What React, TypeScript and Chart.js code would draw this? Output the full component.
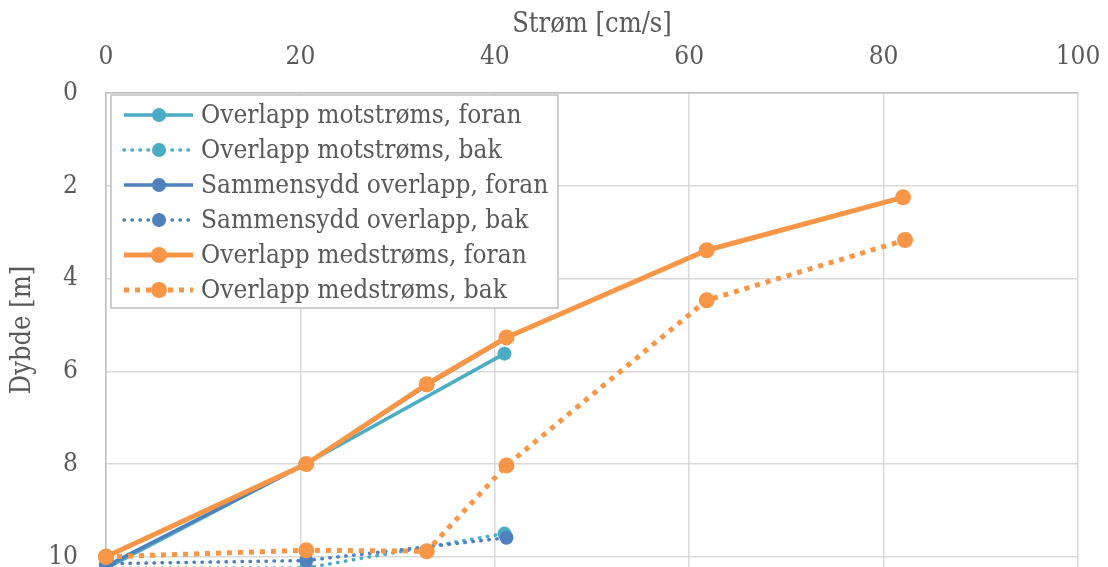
import React, { useEffect, useRef } from 'react';
import { Chart, registerables } from 'chart.js';

Chart.register(...registerables);

const FONT = '"DejaVu Serif Condensed", "DejaVu Serif", serif';
const TEXT_COLOR = '#595959';

const seriesNames = [
  'Overlapp motstrøms, foran',
  'Overlapp motstrøms, bak',
  'Sammensydd overlapp, foran',
  'Sammensydd overlapp, bak',
  'Overlapp medstrøms, foran',
  'Overlapp medstrøms, bak',
];

const xMotForan = [0, 20.5, 41.0];
const yMotForan = [10.25, 8.0, 5.62];

const xMotBak = [0, 20.6, 41.0];
const yMotBak = [10.25, 10.24, 9.5];

const xSamForan = [0, 20.6, 33.0, 41.2];
const ySamForan = [10.2, 8.0, 6.3, 5.28];

const xSamBak = [0, 20.6, 41.2];
const ySamBak = [10.15, 10.08, 9.59];

const xMedForan = [0, 20.6, 33.0, 41.2, 61.8, 82.0];
const yMedForan = [10.0, 8.0, 6.28, 5.27, 3.39, 2.25];

const xMedBak = [0, 20.6, 33.0, 41.2, 61.8, 82.2];
const yMedBak = [10.0, 9.86, 9.88, 8.03, 4.47, 3.17];

const xTicks = [0, 20, 40, 60, 80, 100];
const yTicks = [0, 2, 4, 6, 8, 10];

const TEAL = '#4BACC6';
const BLUE = '#4F81BD';
const ORANGE = '#F79646';

const toPoints = (xs: number[], ys: number[]) => xs.map((x, i) => ({ x, y: ys[i] }));

const legendPlugin = {
  id: 'insideLegend',
  afterDraw(chart: any) {
    const { ctx, chartArea } = chart;
    const x0 = chartArea.left + 5;
    const y0 = chartArea.top + 2;
    const w = 447;
    const h = 213;
    ctx.save();
    ctx.fillStyle = '#ffffff';
    ctx.fillRect(x0, y0, w, h);
    ctx.strokeStyle = '#BFBFBF';
    ctx.lineWidth = 1.5;
    ctx.strokeRect(x0, y0, w, h);
    chart.data.datasets.forEach((ds: any, i: number) => {
      const cy = y0 + 20 + 35 * i;
      ctx.strokeStyle = ds.borderColor;
      ctx.lineWidth = ds.borderWidth;
      ctx.setLineDash(ds.borderDash || []);
      ctx.lineCap = ds.borderCapStyle || 'butt';
      ctx.beginPath();
      ctx.moveTo(x0 + 13, cy);
      ctx.lineTo(x0 + 82, cy);
      ctx.stroke();
      ctx.setLineDash([]);
      ctx.fillStyle = ds.pointBackgroundColor;
      ctx.beginPath();
      ctx.arc(x0 + 48, cy, ds.pointRadius, 0, Math.PI * 2);
      ctx.fill();
      ctx.fillStyle = TEXT_COLOR;
      ctx.font = `26px ${FONT}`;
      ctx.textBaseline = 'middle';
      ctx.textAlign = 'left';
      ctx.fillText(ds.label, x0 + 90, cy + 1);
    });
    ctx.restore();
  },
};

function makeDataset(label: string, pts: any[], color: string, dotted: boolean, square: boolean, width: number, radius: number, order: number) {
  return {
    label,
    data: pts,
    borderColor: color,
    backgroundColor: color,
    pointBackgroundColor: color,
    pointBorderColor: color,
    pointBorderWidth: 0,
    pointRadius: radius,
    pointHoverRadius: radius,
    borderWidth: width,
    borderDash: dotted ? (square ? [5, 6] : [0.5, 7.5]) : [],
    borderCapStyle: dotted && !square ? 'round' : 'butt',
    borderJoinStyle: 'round',
    showLine: true,
    tension: 0,
    clip: false,
    order,
  };
}

export default function App() {
  const canvasRef = useRef<HTMLCanvasElement | null>(null);

  useEffect(() => {
    const canvas = canvasRef.current;
    if (!canvas) return;
    const chart = new Chart(canvas, {
      type: 'scatter',
      data: {
        datasets: [
          makeDataset(seriesNames[0], toPoints(xMotForan, yMotForan), TEAL, false, false, 3.5, 7, 6),
          makeDataset(seriesNames[1], toPoints(xMotBak, yMotBak), TEAL, true, false, 3.5, 7, 5),
          makeDataset(seriesNames[2], toPoints(xSamForan, ySamForan), BLUE, false, false, 3.5, 7, 4),
          makeDataset(seriesNames[3], toPoints(xSamBak, ySamBak), BLUE, true, false, 3.5, 7, 3),
          makeDataset(seriesNames[4], toPoints(xMedForan, yMedForan), ORANGE, false, false, 5, 8, 2),
          makeDataset(seriesNames[5], toPoints(xMedBak, yMedBak), ORANGE, true, true, 5, 8, 1),
        ] as any,
      },
      options: {
        animation: false,
        responsive: false,
        maintainAspectRatio: false,
        layout: { autoPadding: false, padding: { left: 3, top: 5, right: 30, bottom: 0 } },
        plugins: {
          legend: { display: false },
          tooltip: { enabled: false },
        },
        scales: {
          x: {
            type: 'linear',
            position: 'top',
            min: 0,
            max: 100,
            afterBuildTicks: (axis: any) => {
              axis.ticks = xTicks.map((v) => ({ value: v }));
            },
            afterFit: (axis: any) => {
              axis.height = 88;
              axis.paddingLeft = 0;
              axis.paddingRight = 0;
            },
            grid: { color: '#D9D9D9', lineWidth: 1.5, drawTicks: false },
            border: { color: '#BFBFBF', width: 1.5 },
            ticks: {
              font: { family: FONT, size: 26 },
              color: TEXT_COLOR,
              padding: 20,
              maxRotation: 0,
              autoSkip: false,
            },
            title: {
              display: true,
              text: 'Strøm [cm/s]',
              font: { family: FONT, size: 27 },
              color: TEXT_COLOR,
              padding: { top: 4, bottom: 4 },
            },
          },
          y: {
            type: 'linear',
            reverse: true,
            min: 0,
            max: 10.22,
            afterBuildTicks: (axis: any) => {
              axis.ticks = yTicks.map((v) => ({ value: v }));
            },
            afterFit: (axis: any) => {
              axis.width = 103;
              axis.paddingTop = 0;
              axis.paddingBottom = 0;
            },
            grid: { color: '#D9D9D9', lineWidth: 1.5, drawTicks: false },
            border: { color: '#BFBFBF', width: 1.5 },
            ticks: {
              font: { family: FONT, size: 26 },
              color: TEXT_COLOR,
              padding: 28,
              autoSkip: false,
            },
            title: {
              display: true,
              text: 'Dybde [m]',
              font: { family: FONT, size: 27 },
              color: TEXT_COLOR,
              padding: { top: 4, bottom: 4 },
            },
          },
        },
      } as any,
      plugins: [legendPlugin],
    });
    return () => chart.destroy();
  }, []);

  return (
    <div style={{ position: 'absolute', left: 0, top: 0, width: 1108, height: 567, overflow: 'hidden', background: '#fff' }}>
      <canvas ref={canvasRef} width={1108} height={567} style={{ width: 1108, height: 567, display: 'block' }} />
    </div>
  );
}
